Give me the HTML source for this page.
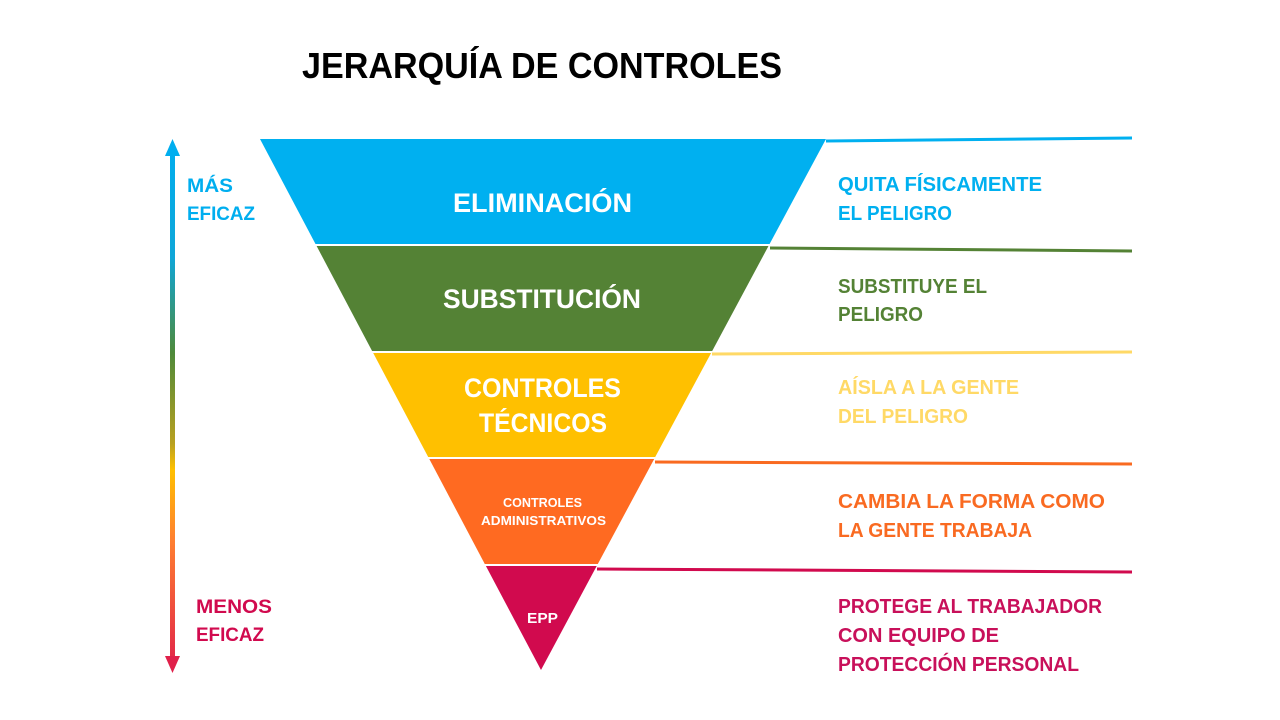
<!DOCTYPE html>
<html><head><meta charset="utf-8"><style>
html,body{margin:0;padding:0;background:#fff;}
svg{display:block;}
text{font-family:"Liberation Sans",sans-serif;font-weight:bold;}
</style></head><body>
<svg width="1280" height="720" viewBox="0 0 1280 720" xmlns="http://www.w3.org/2000/svg">
<defs>
<linearGradient id="g" x1="0" y1="140" x2="0" y2="672" gradientUnits="userSpaceOnUse">
<stop offset="0" stop-color="#00AEEF"/>
<stop offset="0.22" stop-color="#0FA6D8"/>
<stop offset="0.40" stop-color="#4E8A3A"/>
<stop offset="0.57" stop-color="#B8A020"/>
<stop offset="0.62" stop-color="#FFC000"/>
<stop offset="0.75" stop-color="#FF8030"/>
<stop offset="1" stop-color="#E0204A"/>
</linearGradient>
</defs>
<text x="302" y="78" font-size="36" fill="#000" textLength="480" lengthAdjust="spacingAndGlyphs">JERARQUÍA DE CONTROLES</text>

<!-- arrow -->
<rect x="170" y="152" width="5" height="508" fill="url(#g)"/>
<polygon points="172.5,139 165,156 180,156" fill="#00AEEF"/>
<polygon points="172.5,673 165,656 180,656" fill="#E0204A"/>

<text x="187" y="192" font-size="19" fill="#00AEEF" textLength="46" lengthAdjust="spacingAndGlyphs">MÁS</text>
<text x="187" y="220" font-size="19" fill="#00AEEF" textLength="68" lengthAdjust="spacingAndGlyphs">EFICAZ</text>
<text x="196" y="613" font-size="19" fill="#D10A4E" textLength="76" lengthAdjust="spacingAndGlyphs">MENOS</text>
<text x="196" y="641" font-size="19" fill="#D10A4E" textLength="68" lengthAdjust="spacingAndGlyphs">EFICAZ</text>

<!-- bands -->
<polygon points="260,139 826,139 769.6,244 315.5,244" fill="#00B0F0"/>
<polygon points="316.6,246 768.5,246 712.2,351 372.1,351" fill="#548235"/>
<polygon points="373.2,353 711.1,353 655.2,457 428.2,457" fill="#FFC000"/>
<polygon points="429.3,459 654.2,459 597.8,564 484.8,564" fill="#FF6A21"/>
<polygon points="485.9,566 596.7,566 541,670" fill="#D10A4E"/>

<!-- lines -->
<line x1="826" y1="141" x2="1132" y2="138" stroke="#00B0F0" stroke-width="3"/>
<line x1="770" y1="248" x2="1132" y2="251" stroke="#548235" stroke-width="3"/>
<line x1="712" y1="354" x2="1132" y2="352" stroke="#FFD966" stroke-width="3"/>
<line x1="655" y1="462" x2="1132" y2="464" stroke="#F96A21" stroke-width="3"/>
<line x1="597" y1="569" x2="1132" y2="572" stroke="#D10A4E" stroke-width="3"/>

<!-- band labels -->
<text x="453" y="212" font-size="27" fill="#fff" textLength="179" lengthAdjust="spacingAndGlyphs">ELIMINACIÓN</text>
<text x="443" y="308" font-size="27" fill="#fff" textLength="198" lengthAdjust="spacingAndGlyphs">SUBSTITUCIÓN</text>
<text x="464" y="397" font-size="27" fill="#fff" textLength="157" lengthAdjust="spacingAndGlyphs">CONTROLES</text>
<text x="479" y="432" font-size="27" fill="#fff" textLength="128" lengthAdjust="spacingAndGlyphs">TÉCNICOS</text>
<text x="503" y="507" font-size="12.5" fill="#fff" textLength="79" lengthAdjust="spacingAndGlyphs">CONTROLES</text>
<text x="481" y="525" font-size="12.5" fill="#fff" textLength="125" lengthAdjust="spacingAndGlyphs">ADMINISTRATIVOS</text>
<text x="527" y="623" font-size="15" fill="#fff" textLength="31" lengthAdjust="spacingAndGlyphs">EPP</text>

<!-- right texts -->
<text x="838" y="191" font-size="20" fill="#00B0F0" textLength="204" lengthAdjust="spacingAndGlyphs">QUITA FÍSICAMENTE</text>
<text x="838" y="220" font-size="20" fill="#00B0F0" textLength="114" lengthAdjust="spacingAndGlyphs">EL PELIGRO</text>
<text x="838" y="293" font-size="20" fill="#548235" textLength="149" lengthAdjust="spacingAndGlyphs">SUBSTITUYE EL</text>
<text x="838" y="321" font-size="20" fill="#548235" textLength="85" lengthAdjust="spacingAndGlyphs">PELIGRO</text>
<text x="838" y="394" font-size="20" fill="#FFD966" textLength="181" lengthAdjust="spacingAndGlyphs">AÍSLA A LA GENTE</text>
<text x="838" y="423" font-size="20" fill="#FFD966" textLength="130" lengthAdjust="spacingAndGlyphs">DEL PELIGRO</text>
<text x="838" y="508" font-size="20" fill="#F96A21" textLength="267" lengthAdjust="spacingAndGlyphs">CAMBIA LA FORMA COMO</text>
<text x="838" y="537" font-size="20" fill="#F96A21" textLength="194" lengthAdjust="spacingAndGlyphs">LA GENTE TRABAJA</text>
<text x="838" y="613" font-size="20" fill="#C8105A" textLength="264" lengthAdjust="spacingAndGlyphs">PROTEGE AL TRABAJADOR</text>
<text x="838" y="642" font-size="20" fill="#C8105A" textLength="161" lengthAdjust="spacingAndGlyphs">CON EQUIPO DE</text>
<text x="838" y="671" font-size="20" fill="#C8105A" textLength="241" lengthAdjust="spacingAndGlyphs">PROTECCIÓN PERSONAL</text>
</svg>
</body></html>
